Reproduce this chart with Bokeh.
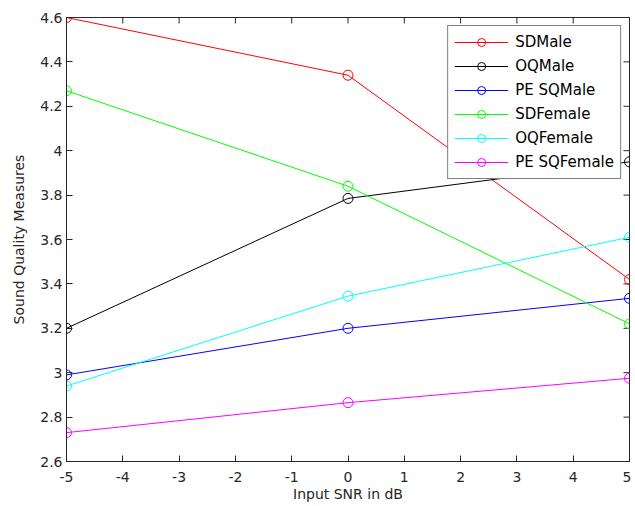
import math
from bokeh.plotting import figure
from bokeh.models import FixedTicker, Legend, LegendItem, Range1d
from bokeh.embed import file_html
from bokeh.resources import INLINE

snr = [-5, 0, 5]
series_names = ["SDMale", "OQMale", "PE SQMale", "SDFemale", "OQFemale", "PE SQFemale"]
sd_male = [4.60, 4.34, 3.42]
oq_male = [3.20, 3.785, 3.95]
pesq_male = [2.99, 3.20, 3.335]
sd_female = [4.27, 3.84, 3.22]
oq_female = [2.94, 3.345, 3.61]
pesq_female = [2.73, 2.865, 2.975]
colors = ["#FF0000", "#000000", "#0000FF", "#00FF00", "#00FFFF", "#FF00FF"]
x_ticks = [-5, -4, -3, -2, -1, 0, 1, 2, 3, 4, 5]
x_labels = {-5: "-5", -4: "-4", -3: "-3", -2: "-2", -1: "-1", 0: "0",
            1: "1", 2: "2", 3: "3", 4: "4", 5: "5"}
y_ticks = [2.6, 2.8, 3.0, 3.2, 3.4, 3.6, 3.8, 4.0, 4.2, 4.4, 4.6]
y_labels = {2.6: "2.6", 2.8: "2.8", 3.0: "3", 3.2: "3.2", 3.4: "3.4", 3.6: "3.6",
            3.8: "3.8", 4.0: "4", 4.2: "4.2", 4.4: "4.4", 4.6: "4.6"}

FONT = "DejaVu Sans"
TXT = "#262626"
AX = "#262626"

p = figure(frame_width=563, frame_height=444, output_backend="svg", toolbar_location=None,
           x_range=Range1d(x_ticks[0], x_ticks[-1]), y_range=Range1d(y_ticks[0], y_ticks[-1]),
           min_border_left=66, min_border_right=2, min_border_top=17, min_border_bottom=6)
p.xgrid.visible = False
p.ygrid.visible = False
p.outline_line_color = AX
p.outline_line_width = 1
p.background_fill_color = "white"
p.border_fill_color = "white"

for ax in (p.xaxis[0], p.yaxis[0]):
    ax.major_tick_in = 6
    ax.major_tick_out = 0
    ax.minor_tick_line_color = None
    ax.axis_line_color = AX
    ax.major_tick_line_color = AX
    ax.major_label_text_font = FONT
    ax.major_label_text_font_size = "14px"
    ax.major_label_text_color = TXT
    ax.axis_label_text_font = FONT
    ax.axis_label_text_font_size = "14px"
    ax.axis_label_text_font_style = "normal"
    ax.axis_label_text_color = TXT

p.xaxis[0].ticker = FixedTicker(ticks=x_ticks)
p.xaxis[0].major_label_overrides = x_labels
p.yaxis[0].ticker = FixedTicker(ticks=y_ticks)
p.yaxis[0].major_label_overrides = y_labels
p.xaxis[0].axis_label = "Input SNR in dB"
p.yaxis[0].axis_label = "Sound Quality Measures"
p.xaxis[0].major_label_standoff = 10
p.xaxis[0].axis_label_standoff = 1
p.yaxis[0].major_label_standoff = 4
p.yaxis[0].axis_label_standoff = 10

# inward ticks on the top and right edges of the box
p.scatter(x_ticks, [y_ticks[-1]] * len(x_ticks), marker="dash", angle=math.pi / 2,
          size=12, line_color=AX, line_width=1)
p.scatter([x_ticks[-1]] * len(y_ticks), y_ticks, marker="dash",
          size=12, line_color=AX, line_width=1)

data = [sd_male, oq_male, pesq_male, sd_female, oq_female, pesq_female]
items = []
for name, vals, c in zip(series_names, data, colors):
    r1 = p.line(snr, vals, line_color=c, line_width=1)
    r2 = p.scatter(snr, vals, marker="circle", size=10, fill_color=None, line_color=c, line_width=1)
    items.append(LegendItem(label=name, renderers=[r1, r2]))

leg = Legend(items=items, location="top_right")
leg.border_line_color = "#000000"
leg.border_line_width = 1
leg.label_text_font = FONT
leg.label_text_font_size = "15px"
leg.label_text_color = "#000000"
leg.glyph_width = 54
leg.glyph_height = 20
leg.spacing = 4
leg.padding = 6
leg.margin = 8
leg.label_standoff = 7
leg.background_fill_alpha = 1
p.add_layout(leg)

open("out.html", "w").write(file_html(p, INLINE))
